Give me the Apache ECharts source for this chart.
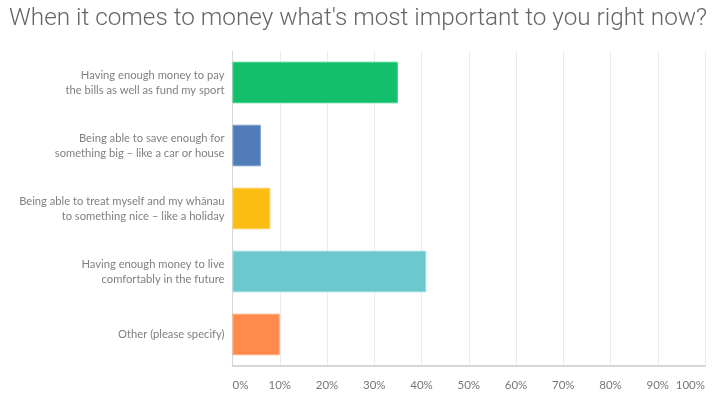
<!DOCTYPE html>
<html><head><meta charset="utf-8">
<script src="https://cdn.jsdelivr.net/npm/echarts@6/dist/echarts.min.js"></script>
<style>html,body{margin:0;padding:0;background:#fff;}#c{width:714px;height:395px;}</style>
</head><body><div id="c"></div>
<script>
const categories = [
  "Having enough money to pay\nthe bills as well as fund my sport",
  "Being able to save enough for\nsomething big – like a car or house",
  "Being able to treat myself and my whānau\nto something nice – like a holiday",
  "Having enough money to live\ncomfortably in the future",
  "Other (please specify)"
];
const values = [35, 6, 8, 41, 10];
const colors = ["#14bf6c", "#507cb7", "#fbbd13", "#6bc8cd", "#ff8a4c"];
const borders = ["#3fd08a", "#7d9fcc", "#fdd060", "#9adade", "#ffa877"];

const chart = echarts.init(document.getElementById('c'));
chart.setOption({
  animation: false,
  title: {
    text: "When it comes to money what's most important to you right now?",
    left: 4, top: 2,
    textStyle: { fontFamily: 'Roboto', fontWeight: 300, fontSize: 24.3, color: '#666' }
  },
  grid: { left: 232.5, right: 9, top: 51, bottom: 29 },
  xAxis: {
    type: 'value', min: 0, max: 100, interval: 10,
    axisLabel: { formatter: '{value}%', color: '#777', fontFamily: 'Lato', fontSize: 11.5, margin: 13,
      alignMinLabel: 'left', alignMaxLabel: 'right' },
    splitLine: { show: true, lineStyle: { color: '#ececec', width: 1 } },
    axisLine: { show: true, lineStyle: { color: '#d6d6d6', width: 2 } },
    axisTick: { show: false }
  },
  yAxis: {
    type: 'category', inverse: true, data: categories,
    axisLabel: { color: '#808080', fontFamily: 'Lato', fontSize: 11.2, lineHeight: 15, margin: 8, align: 'right' },
    axisLine: { show: true, lineStyle: { color: '#d6d6d6', width: 1 } },
    axisTick: { show: false }
  },
  series: [{
    type: 'bar', barWidth: '66%',
    data: values.map((v, i) => ({ value: v, itemStyle: { color: colors[i], borderColor: borders[i], borderWidth: 1 } }))
  }]
});
</script></body></html>
